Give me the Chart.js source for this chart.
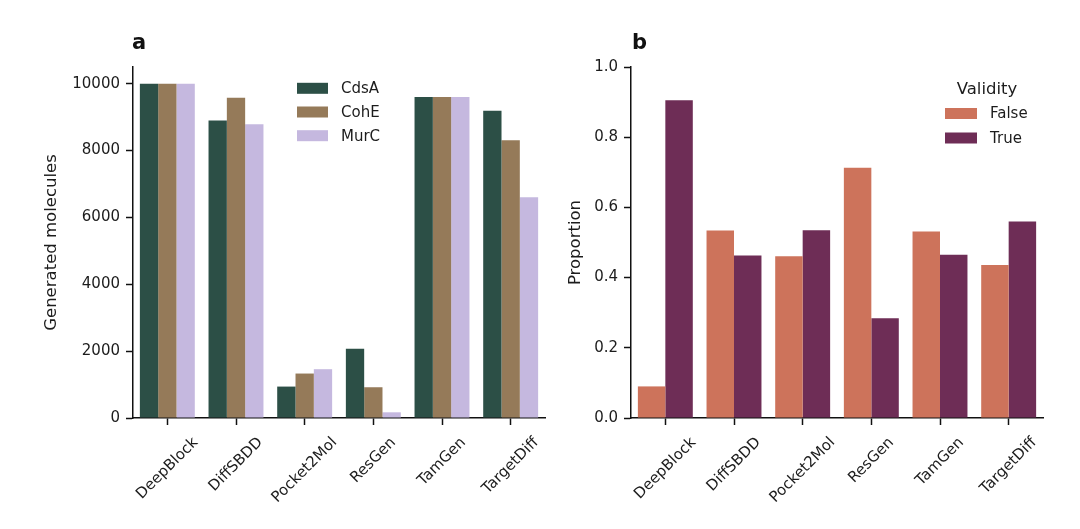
<!DOCTYPE html>
<html>
<head>
<meta charset="utf-8">
<script src="https://cdn.jsdelivr.net/npm/chart.js@4.4.1/dist/chart.umd.min.js"></script>
<style>
  html, body { margin: 0; padding: 0; background: #ffffff; }
  #wrap { position: relative; width: 1080px; height: 529px; overflow: hidden; background: #fff; }
  canvas { position: absolute; top: 0; }
  #ca { left: 0; }
  #cb { left: 540px; }
  .panel { position: absolute; font-family: "DejaVu Sans", sans-serif; font-weight: bold; font-size: 21px; line-height: 24px; color: #111; }
</style>
</head>
<body>
<div id="wrap">
  <canvas id="ca" width="560" height="529"></canvas>
  <canvas id="cb" width="540" height="529"></canvas>
  <div class="panel" style="left:132px; top:30px;">a</div>
  <div class="panel" style="left:632px; top:30px;">b</div>
</div>
<script>
// ---------- data ----------
const methods = ["DeepBlock", "DiffSBDD", "Pocket2Mol", "ResGen", "TamGen", "TargetDiff"];

const targetNames = ["CdsA", "CohE", "MurC"];
const cdsA = [10000, 8900, 940, 2070, 9600, 9190];
const cohE = [10000, 9580, 1330, 920, 9600, 8310];
const murC = [10000, 8790, 1460, 170, 9600, 6600];

const validityNames = ["False", "True"];
const validFalse = [0.090, 0.534, 0.461, 0.713, 0.531, 0.436];
const validTrue  = [0.905, 0.463, 0.535, 0.284, 0.465, 0.560];

const yTicksA = [0, 2000, 4000, 6000, 8000, 10000];
const yTicksB = [0.0, 0.2, 0.4, 0.6, 0.8, 1.0];

const yMaxA = 10500;
const yMaxB = 1.0;

const yTitleA = "Generated molecules";
const yTitleB = "Proportion";
const legendTitleB = "Validity";

// ---------- styles ----------
const FONT = '"DejaVu Sans", sans-serif';
const TXT = '#1c1c1c';
const colorsA = ['#2c4f46', '#957a59', '#c5b8df'];
const colorsB = ['#cd735b', '#6e2d56'];

function rotatedLabels(tickFont) {
  return {
    id: 'rotatedLabels',
    afterDraw(chart) {
      const ctx = chart.ctx;
      const xs = chart.scales.x;
      ctx.save();
      ctx.font = tickFont + 'px ' + FONT;
      ctx.fillStyle = TXT;
      ctx.textAlign = 'center';
      ctx.textBaseline = 'middle';
      const s = Math.SQRT1_2;
      const h = tickFont * 1.16;
      const top = xs.top + 16;
      xs.ticks.forEach((t, i) => {
        const label = chart.data.labels[i];
        const w = ctx.measureText(label).width;
        const H = (w + h) * s;
        const cx = xs.getPixelForTick(i);
        const cy = top + H / 2;
        ctx.save();
        ctx.translate(cx, cy);
        ctx.rotate(-Math.PI / 4);
        ctx.fillText(label, 0, 0);
        ctx.restore();
      });
      ctx.restore();
    }
  };
}

function legendPlugin(cfg) {
  return {
    id: 'boxLegend',
    afterDraw(chart) {
      const ctx = chart.ctx;
      ctx.save();
      if (cfg.title) {
        ctx.font = '16.5px ' + FONT;
        ctx.fillStyle = TXT;
        ctx.textAlign = 'center';
        ctx.textBaseline = 'middle';
        ctx.fillText(cfg.title, cfg.titleX, cfg.titleY);
      }
      chart.data.datasets.forEach((ds, i) => {
        const y = cfg.y0 + i * cfg.dy;
        ctx.fillStyle = ds.backgroundColor;
        ctx.fillRect(cfg.px, y - 5.5, cfg.pw, 11);
        ctx.font = '15px ' + FONT;
        ctx.fillStyle = TXT;
        ctx.textAlign = 'left';
        ctx.textBaseline = 'middle';
        ctx.fillText(ds.label, cfg.tx, y + 1);
      });
      ctx.restore();
    }
  };
}

function makeOptions(o) {
  return {
    responsive: false,
    animation: false,
    devicePixelRatio: 1,
    layout: { padding: o.padding },
    plugins: { legend: { display: false }, tooltip: { enabled: false }, title: { display: false } },
    datasets: { bar: { categoryPercentage: 0.8, barPercentage: 1.0, borderWidth: 0 } },
    scales: {
      x: {
        offset: true,
        grid: { offset: false, drawOnChartArea: false, drawTicks: true, tickLength: 7, tickWidth: 1.5, tickColor: '#111' },
        border: { display: true, color: '#111', width: 1.5 },
        ticks: { display: false },
        afterFit: s => { s.height = o.xHeight; }
      },
      y: {
        min: 0,
        max: o.yMax,
        afterBuildTicks: s => { s.ticks = o.yTicks.map(v => ({ value: v })); },
        grid: { drawOnChartArea: false, drawTicks: true, tickLength: 7, tickWidth: 1.5, tickColor: '#111' },
        border: { display: true, color: '#111', width: 1.5 },
        ticks: {
          color: TXT, padding: 6,
          font: { family: FONT, size: 15 },
          callback: o.fmt
        },
        title: {
          display: true, text: o.yTitle, color: TXT,
          font: { family: FONT, size: 16.5 },
          padding: { top: 4, bottom: 4 }
        },
        afterFit: s => { s.width = o.yWidth; }
      }
    }
  };
}

// ---------- chart a ----------
new Chart(document.getElementById('ca'), {
  type: 'bar',
  data: {
    labels: methods,
    datasets: [
      { label: targetNames[0], data: cdsA, backgroundColor: colorsA[0] },
      { label: targetNames[1], data: cohE, backgroundColor: colorsA[1] },
      { label: targetNames[2], data: murC, backgroundColor: colorsA[2] }
    ]
  },
  options: makeOptions({
    padding: { left: 38, top: 67, right: 15, bottom: 0 },
    yWidth: 95, xHeight: 111, yMax: yMaxA, yTicks: yTicksA,
    fmt: v => String(v), yTitle: yTitleA
  }),
  plugins: [rotatedLabels(15), legendPlugin({ px: 297, pw: 31, tx: 341, y0: 88.3, dy: 23.7 })]
});

// ---------- chart b ----------
new Chart(document.getElementById('cb'), {
  type: 'bar',
  data: {
    labels: methods,
    datasets: [
      { label: validityNames[0], data: validFalse, backgroundColor: colorsB[0] },
      { label: validityNames[1], data: validTrue, backgroundColor: colorsB[1] }
    ]
  },
  options: makeOptions({
    padding: { left: 22, top: 67, right: 37, bottom: 0 },
    yWidth: 69, xHeight: 111, yMax: yMaxB, yTicks: yTicksB,
    fmt: v => Number(v).toFixed(1), yTitle: yTitleB
  }),
  plugins: [rotatedLabels(15), legendPlugin({ title: legendTitleB, titleX: 447, titleY: 90, px: 405, pw: 32, tx: 450, y0: 113.5, dy: 24.5 })]
});
</script>
</body>
</html>
